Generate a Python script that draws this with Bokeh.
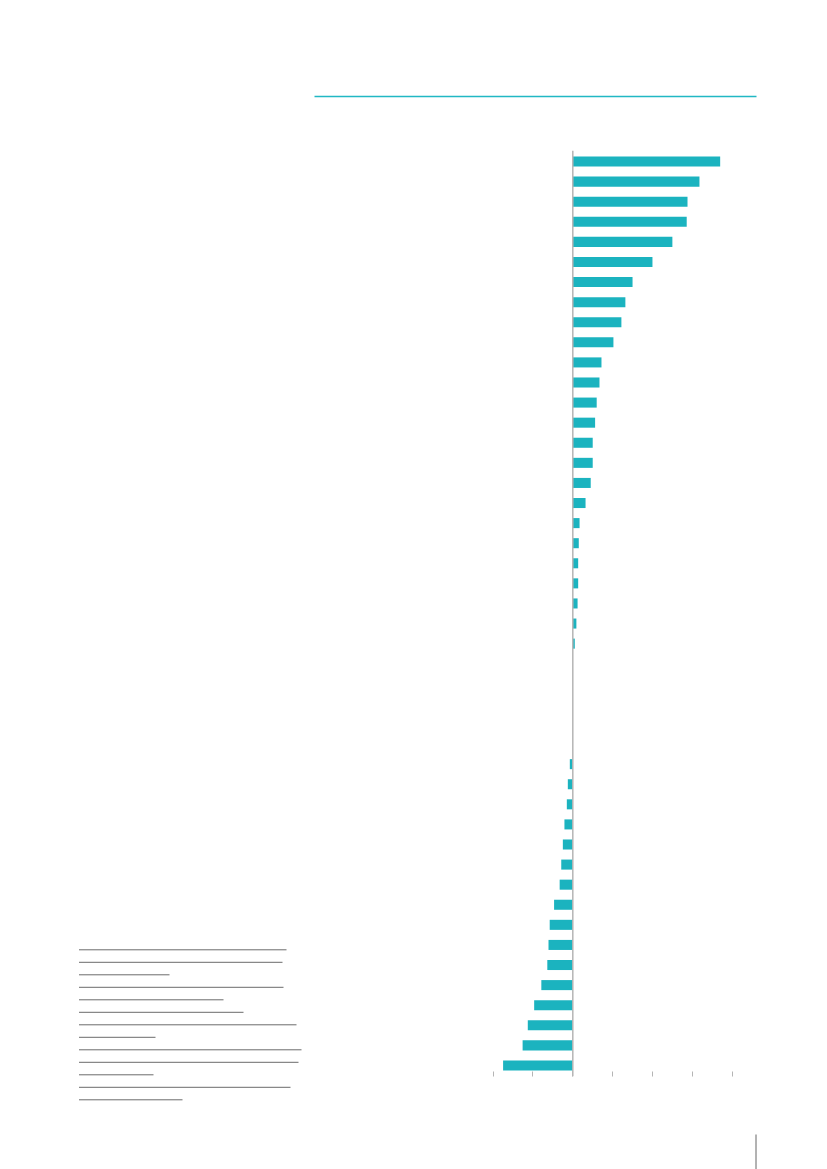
from bokeh.plotting import figure
from bokeh.layouts import column
from bokeh.models import Range1d, Span, FixedTicker, ColumnDataSource
from bokeh.embed import file_html
from bokeh.resources import INLINE

# ---- data (one tick step = 1 unit) ----
values_pos = [3.70, 3.18, 2.88, 2.86, 2.50, 2.00, 1.50, 1.32, 1.22, 1.02,
              0.72, 0.67, 0.60, 0.56, 0.50, 0.50, 0.45, 0.32, 0.17, 0.15,
              0.135, 0.135, 0.12, 0.09, 0.05]
values_zero = [0.0, 0.0, 0.0, 0.0, 0.0]
values_neg = [-0.075, -0.125, -0.15, -0.21, -0.25, -0.29, -0.33, -0.47,
              -0.58, -0.61, -0.64, -0.79, -0.97, -1.13, -1.26, -1.75]
x_ticks = [-2, -1, 0, 1, 2, 3, 4]

# redacted footnote lines: right ends (page px)
note_line_ends = [286, 282, 169, 283, 223, 243, 296, 155, 301, 298, 153, 290, 182]

values = values_pos + values_zero + values_neg
rows = list(range(len(values)))

TEAL = "#1bb3bf"
GRAY = "#b5b5b5"

PAGE_W, PAGE_H = 827, 1169
FRAME_TOP, FRAME_BOTTOM = 150, 1076
BORDER_BOTTOM = 8
TOP_H = FRAME_TOP
MAIN_H = FRAME_BOTTOM - FRAME_TOP + BORDER_BOTTOM
BOT_Y0 = TOP_H + MAIN_H
BOT_H = PAGE_H - BOT_Y0

ZERO_X = 572.3      # page px of value 0
UNIT = 39.83        # page px per unit


def blank(w, h, xr, yr):
    f = figure(width=w, height=h, x_range=xr, y_range=yr,
               x_axis_location=None, y_axis_location=None,
               toolbar_location=None, output_backend="svg",
               min_border=0)
    f.grid.visible = False
    f.outline_line_color = None
    return f


# top strip with teal rule
top = blank(PAGE_W, TOP_H, Range1d(0, PAGE_W), Range1d(TOP_H, 0))
top.segment(x0=[314], y0=[96], x1=[756], y1=[96], line_color="#22b8c4", line_width=1.3)

# main bar chart (frame spans full width)
main = figure(width=PAGE_W, height=MAIN_H,
              x_range=Range1d(-ZERO_X / UNIT, (PAGE_W - ZERO_X) / UNIT),
              y_range=Range1d(45.55, -0.55),
              y_axis_location=None, toolbar_location=None, output_backend="svg",
              min_border_top=0, min_border_left=0, min_border_right=0,
              min_border_bottom=BORDER_BOTTOM)
main.grid.visible = False
main.outline_line_color = None
main.extra_x_ranges = {"px": Range1d(0, PAGE_W)}
main.extra_y_ranges = {"px": Range1d(FRAME_BOTTOM, FRAME_TOP)}

src = ColumnDataSource(dict(y=rows, v=values))
main.hbar(y="y", left=0, right="v", height=0.5, source=src,
          fill_color=TEAL, line_color=None)
main.add_layout(Span(location=0, dimension="height", line_color=GRAY, line_width=1.5))
ax = main.xaxis[0]
ax.ticker = FixedTicker(ticks=x_ticks)
ax.axis_line_color = None
ax.major_tick_in = 5
ax.major_tick_out = 0
ax.minor_tick_line_color = None
ax.major_tick_line_color = GRAY
ax.major_label_text_font_size = "0px"
ax.major_label_standoff = 0
ax.major_label_text_color = None

note_y = [949.3 + i * 12.5 for i in range(len(note_line_ends))]
in_main = [i for i, y in enumerate(note_y) if y < FRAME_BOTTOM]
in_bot = [i for i, y in enumerate(note_y) if y >= FRAME_BOTTOM]
main.segment(x0=[78.5] * len(in_main), y0=[note_y[i] for i in in_main],
             x1=[note_line_ends[i] for i in in_main], y1=[note_y[i] for i in in_main],
             line_color="#6b6b6b", line_width=1, x_range_name="px", y_range_name="px")

# bottom strip: remaining footnote lines and page marker
bottom = blank(PAGE_W, BOT_H, Range1d(0, PAGE_W), Range1d(PAGE_H, BOT_Y0))
bottom.segment(x0=[78.5] * len(in_bot), y0=[note_y[i] for i in in_bot],
               x1=[note_line_ends[i] for i in in_bot], y1=[note_y[i] for i in in_bot],
               line_color="#6b6b6b", line_width=1)
bottom.segment(x0=[755.5], y0=[1134], x1=[755.5], y1=[PAGE_H], line_color="#666666", line_width=1)

layout = column(top, main, bottom)
open("out.html", "w").write(file_html(layout, INLINE))
